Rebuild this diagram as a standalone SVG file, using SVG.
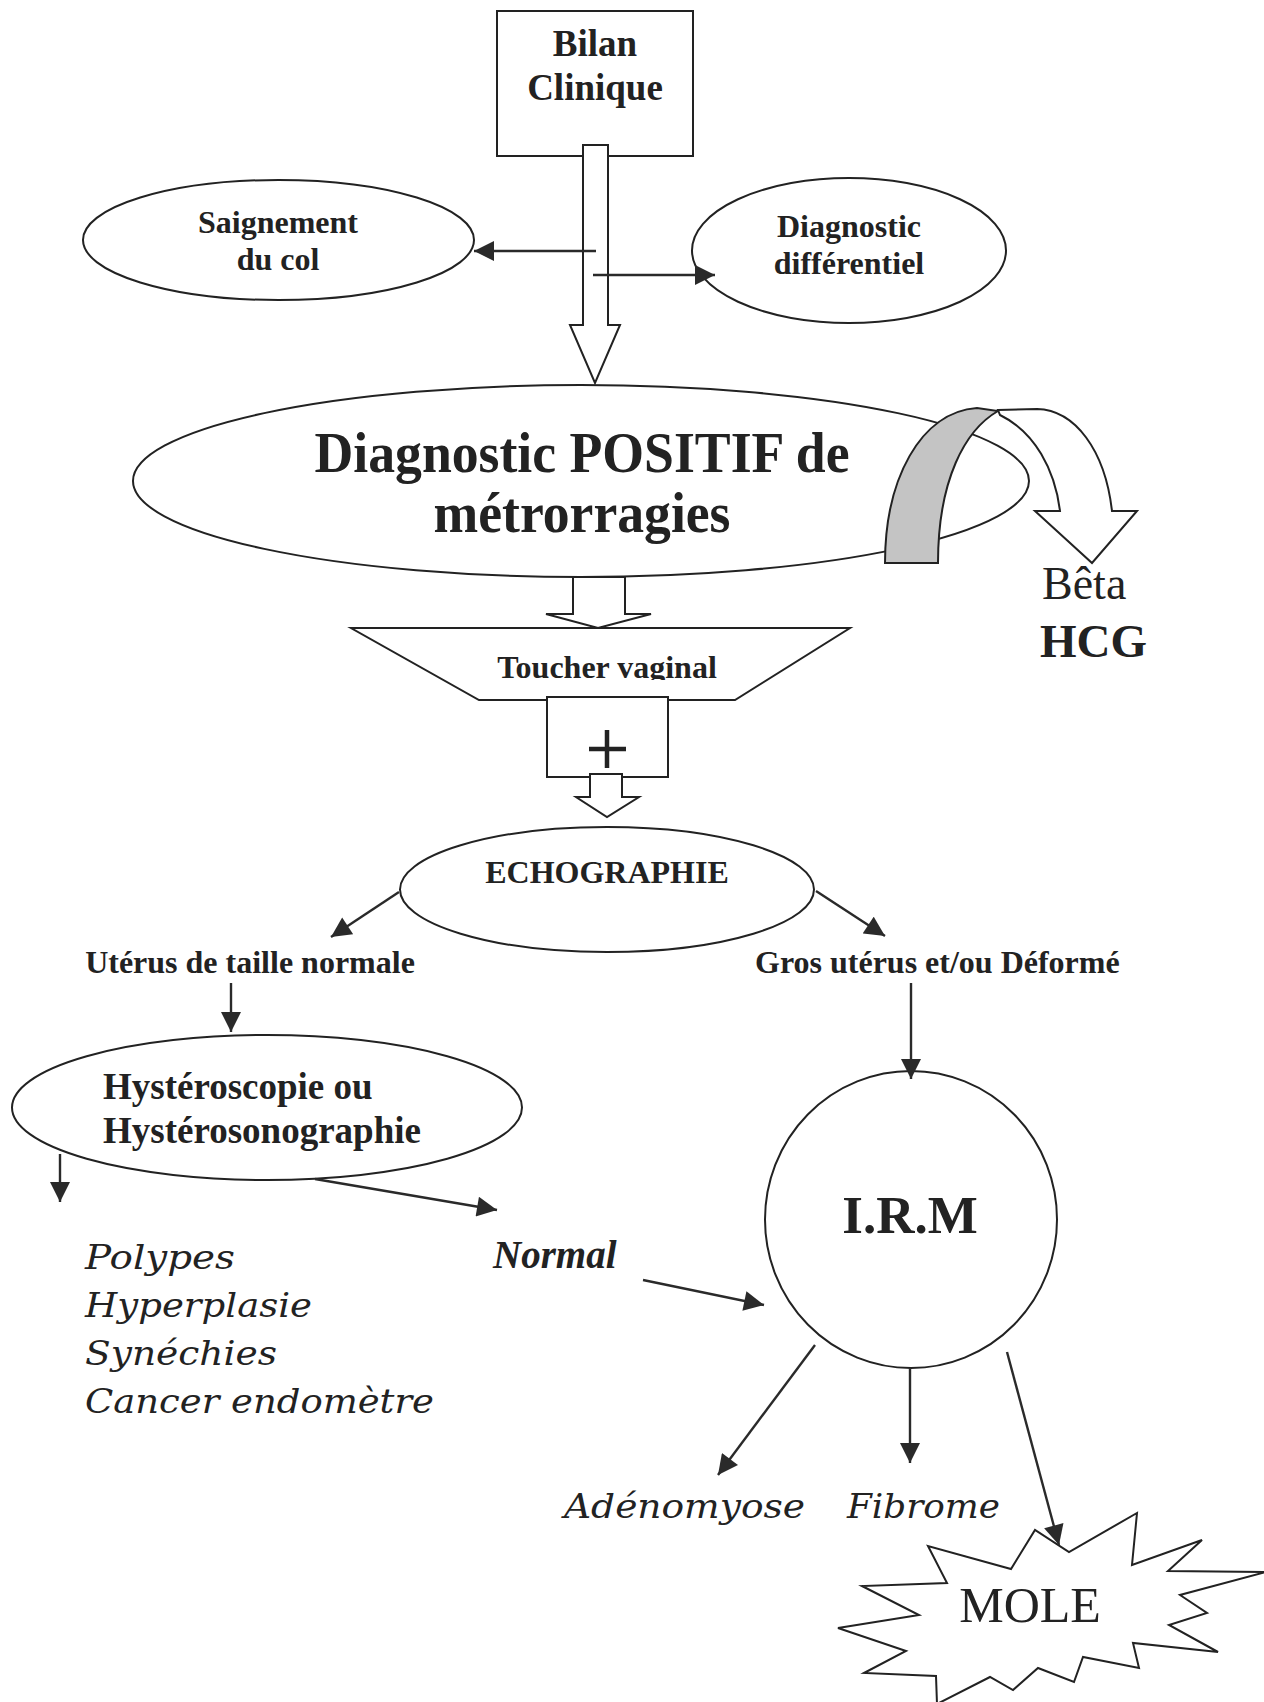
<svg xmlns="http://www.w3.org/2000/svg" width="1264" height="1702" viewBox="0 0 1264 1702">
<defs>
<style>
.shape{fill:#fff;stroke:#222;stroke-width:2}
.b{font-family:"Liberation Serif","Times New Roman",serif;font-weight:bold;fill:#222}
.r{font-family:"Liberation Serif","Times New Roman",serif;fill:#222}
.it{font-family:"DejaVu Serif",serif;font-style:italic;fill:#222}
.c{text-anchor:middle}
.ln{fill:none;stroke:#2a2a2a;stroke-width:2.4;marker-end:url(#ah)}
</style>
<marker id="ah" viewBox="0 0 20 20" refX="20" refY="10" markerWidth="21" markerHeight="20" markerUnits="userSpaceOnUse" orient="auto">
<path d="M0,0 L20,10 L0,20 Z" fill="#2a2a2a"/>
</marker>
<clipPath id="tvclip"><rect x="0" y="600" width="1264" height="80"/></clipPath>
</defs>
<rect width="1264" height="1702" fill="#fff"/>

<g id="bilan">
<rect class="shape" x="497" y="11" width="196" height="145"/>
<text class="b c" x="595" y="56" font-size="37">Bilan</text>
<text class="b c" x="595" y="100" font-size="37">Clinique</text>
</g>

<g id="saignement">
<ellipse class="shape" cx="278.5" cy="240" rx="195.5" ry="60"/>
<text class="b c" x="278" y="233" font-size="32">Saignement</text>
<text class="b c" x="278" y="270" font-size="32">du col</text>
</g>

<g id="diag-diff">
<ellipse class="shape" cx="849" cy="250.5" rx="157" ry="72.5"/>
<text class="b c" x="849" y="237" font-size="32">Diagnostic</text>
<text class="b c" x="849" y="274" font-size="32">différentiel</text>
</g>

<g id="diag-positif">
<ellipse class="shape" cx="581" cy="481" rx="448" ry="96"/>
<text class="b c" x="582" y="472" font-size="57" textLength="535" lengthAdjust="spacingAndGlyphs">Diagnostic POSITIF de</text>
<text class="b c" x="582" y="532" font-size="57" textLength="297" lengthAdjust="spacingAndGlyphs">métrorragies</text>
</g>

<g id="beta-hcg">
<path d="M885,563 C885,480 920,412 977,408 L998,411 C965,430 938,480 938,563 Z" fill="#c4c4c4" stroke="#222" stroke-width="2"/>
<path d="M998,410 L1037,409 C1075,410 1105,450 1112,511 L1137,511 L1092,563 L1035,511 L1060,511 C1055,470 1035,432 1000,415 Z" fill="#fff" stroke="#222" stroke-width="2"/>
<text class="r" x="1042" y="599" font-size="46">Bêta</text>
<text class="b" x="1040" y="657" font-size="47">HCG</text>
</g>

<g id="toucher">
<polygon class="shape" points="351,628 850,628 735,700 479,700"/>
<text class="b c" x="607" y="678" font-size="32" clip-path="url(#tvclip)">Toucher vaginal</text>
</g>

<g id="plus">
<rect class="shape" x="547" y="697" width="121" height="80"/>
<path d="M589,749 H626 M607,730 V768" stroke="#222" stroke-width="4.5" fill="none"/>
</g>

<g id="echographie">
<ellipse class="shape" cx="607" cy="889.5" rx="207" ry="62.5"/>
<text class="b c" x="607" y="883" font-size="32">ECHOGRAPHIE</text>
</g>

<g id="uterus-normal">
<text class="b c" x="250" y="973" font-size="32">Utérus de taille normale</text>
</g>

<g id="gros-uterus">
<text class="b" x="755" y="973" font-size="32">Gros utérus et/ou Déformé</text>
</g>

<g id="hysteroscopie">
<ellipse class="shape" cx="267" cy="1107.5" rx="255" ry="72.5"/>
<text class="b" x="103" y="1099" font-size="37">Hystéroscopie ou</text>
<text class="b" x="103" y="1143" font-size="37">Hystérosonographie</text>
</g>

<g id="lesions">
<text class="it" x="85" y="1269" font-size="33" textLength="150" lengthAdjust="spacingAndGlyphs">Polypes</text>
<text class="it" x="85" y="1317" font-size="33" textLength="227" lengthAdjust="spacingAndGlyphs">Hyperplasie</text>
<text class="it" x="85" y="1365" font-size="33" textLength="192" lengthAdjust="spacingAndGlyphs">Synéchies</text>
<text class="it" x="85" y="1413" font-size="33" textLength="349" lengthAdjust="spacingAndGlyphs">Cancer endomètre</text>
</g>

<g id="normal">
<text class="b" x="493" y="1268" font-size="39" font-style="italic">Normal</text>
</g>

<g id="irm">
<ellipse class="shape" cx="911" cy="1219.5" rx="146" ry="148.5"/>
<text class="b c" x="910" y="1233" font-size="53">I.R.M</text>
</g>

<g id="adenomyose">
<text class="it" x="564" y="1518" font-size="33" textLength="241" lengthAdjust="spacingAndGlyphs">Adénomyose</text>
</g>

<g id="fibrome">
<text class="it" x="847" y="1518" font-size="33" textLength="153" lengthAdjust="spacingAndGlyphs">Fibrome</text>
</g>

<g id="mole">
<polygon class="shape" points="928,1546 947,1583 862,1586 919,1615 838,1628 906,1651 864,1673 936,1676 937,1704 990,1677 1013,1690 1038,1668 1074,1682 1083,1657 1139,1668 1133,1643 1218,1652 1169,1625 1207,1613 1180,1595 1266,1572 1168,1571 1202,1540 1132,1565 1137,1513 1069,1552 1035,1530 1011,1569"/>
<text class="r c" x="1030" y="1622" font-size="50">MOLE</text>
</g>

<g id="connectors">
<polygon class="shape" points="583,145 608,145 608,325 620,325 595,383 570,325 583,325"/>
<line class="ln" x1="596" y1="251" x2="474" y2="251"/>
<line class="ln" x1="593" y1="275" x2="715" y2="275"/>
<polygon class="shape" points="573,577 625,577 625,614 651,614 598,628 546,614 573,614"/>
<polygon class="shape" points="590,774 622,774 622,797 639,797 607,817 576,797 590,797"/>
<line class="ln" x1="399" y1="892" x2="331" y2="937"/>
<line class="ln" x1="816" y1="891" x2="885" y2="936"/>
<line class="ln" x1="231" y1="983" x2="231" y2="1032"/>
<line class="ln" x1="911" y1="983" x2="911" y2="1079"/>
<line class="ln" x1="60" y1="1154" x2="60" y2="1202"/>
<line class="ln" x1="315" y1="1179" x2="497" y2="1210"/>
<line class="ln" x1="643" y1="1280" x2="764" y2="1305"/>
<line class="ln" x1="815" y1="1345" x2="718" y2="1475"/>
<line class="ln" x1="910" y1="1368" x2="910" y2="1463"/>
<line class="ln" x1="1007" y1="1352" x2="1059" y2="1545"/>
</g>
</svg>
